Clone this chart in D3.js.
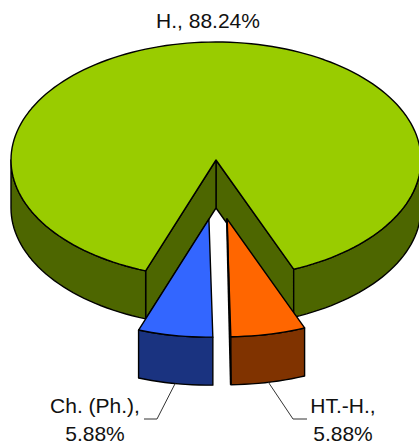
<!DOCTYPE html>
<html>
<head>
<meta charset="utf-8">
<script src="https://cdn.jsdelivr.net/npm/d3@7"></script>
<style>
  html, body { margin: 0; padding: 0; background: #fff; overflow: hidden; }
  svg { display: block; }
  text { font-family: "Liberation Sans", Arial, sans-serif; font-size: 21px; fill: #111; }
</style>
</head>
<body>
<div id="chart"></div>
<script>
// Slice data, clockwise from the start of the large slice
const categories = ["H.", "HT.-H.", "Ch. (Ph.)"];
const shares = [88.24, 5.88, 5.88];
const topColors = ["#99CC00", "#FF6600", "#3366FF"];
const wallColors = ["#4D6600", "#803300", "#1A3380"];

const width = 419, height = 446;
const cx = 216, cy = 160, rx = 205, ry = 118, depth = 48;
const startDeg = 200.07;
// Pull-out distance for the two small slices, horizontal and vertical
const pullX = 49, pullY = 60, pullShift = 1;

const svg = d3.select("#chart").append("svg")
  .attr("width", width).attr("height", height);

const toRad = d => d * Math.PI / 180;
const pie = d3.pie().sort(null)
  .startAngle(toRad(startDeg))
  .endAngle(toRad(startDeg + 360));
const arcs = pie(shares);

// Unit circle coordinates mapped onto the tilted ellipse
const xScale = d3.scaleLinear().domain([-1, 1]).range([cx - rx, cx + rx]);
const yScale = d3.scaleLinear().domain([-1, 1]).range([cy - ry, cy + ry]);

const line = d3.line();
const closed = pts => line(pts) + "Z";

function offsetOf(i, arc) {
  if (i === 0) return [0, 0];
  const mid = (arc.startAngle + arc.endAngle) / 2;
  return [pullShift + pullX * Math.sin(mid), -pullY * Math.cos(mid)];
}
function rim(a, off, drop = 0) {
  return [xScale(Math.sin(a)) + off[0], yScale(-Math.cos(a)) + off[1] + drop];
}
function rimPoints(a0, a1, off, drop = 0) {
  const n = Math.max(2, Math.ceil(Math.abs(a1 - a0) / toRad(2)));
  return d3.range(n + 1).map(k => rim(a0 + (a1 - a0) * k / n, off, drop));
}
function hub(off, drop = 0) {
  return [cx + off[0], cy + off[1] + drop];
}

// Outer wall segments limited to the front half of the ellipse
function frontRanges(a0, a1) {
  const out = [];
  for (let turn = 0; turn < 2; turn++) {
    const lo = toRad(90) + turn * 2 * Math.PI, hi = toRad(270) + turn * 2 * Math.PI;
    const s = Math.max(a0, lo), e = Math.min(a1, hi);
    if (e > s) out.push([s, e]);
  }
  return out;
}

function shape(d, color) {
  svg.append("path").attr("d", d)
    .attr("fill", color).attr("stroke", "#000")
    .attr("stroke-width", 1.4).attr("stroke-linejoin", "round");
}

arcs.forEach((arc, i) => {
  const off = offsetOf(i, arc);
  const wall = wallColors[i];

  // The large slice shows both of its cut faces inside the notch
  if (i === 0) {
    [arc.endAngle, arc.startAngle].forEach(a => {
      shape(closed([hub(off), rim(a, off), rim(a, off, depth), hub(off, depth)]), wall);
    });
  }

  // Curved outer wall
  frontRanges(arc.startAngle, arc.endAngle).forEach(([s, e]) => {
    shape(closed([...rimPoints(s, e, off), ...rimPoints(e, s, off, depth)]), wall);
  });

  // Top face
  shape(closed([hub(off), ...rimPoints(arc.startAngle, arc.endAngle, off)]), topColors[i]);

  // The orange slice's inner face is seen almost edge-on, as one heavy stroke
  if (i === 1) {
    svg.append("path")
      .attr("d", line([hub(off), rim(arc.endAngle, off, depth)]))
      .attr("fill", "none").attr("stroke", "#000").attr("stroke-width", 2);
  }
});

// Labels
const fmt = v => v.toFixed(2) + "%";
svg.append("text").attr("x", 208).attr("y", 28).attr("text-anchor", "middle")
  .text(`${categories[0]}, ${fmt(shares[0])}`);

const labelSpots = [null, { x: 343, elbowX: 293, endX: 307 }, { x: 95, elbowX: 157, endX: 144 }];
[1, 2].forEach(i => {
  const s = labelSpots[i];
  const t = svg.append("text").attr("text-anchor", "middle");
  t.append("tspan").attr("x", s.x).attr("y", 413).text(categories[i] + ",");
  t.append("tspan").attr("x", s.x).attr("y", 441).text(fmt(shares[i]));

  const arc = arcs[i];
  const mid = (arc.startAngle + arc.endAngle) / 2;
  const p = rim(mid, offsetOf(i, arc), depth);
  svg.append("path")
    .attr("d", line([p, [s.elbowX, 419], [s.endX, 419]]))
    .attr("fill", "none").attr("stroke", "#333").attr("stroke-width", 1);
});
</script>
</body>
</html>
